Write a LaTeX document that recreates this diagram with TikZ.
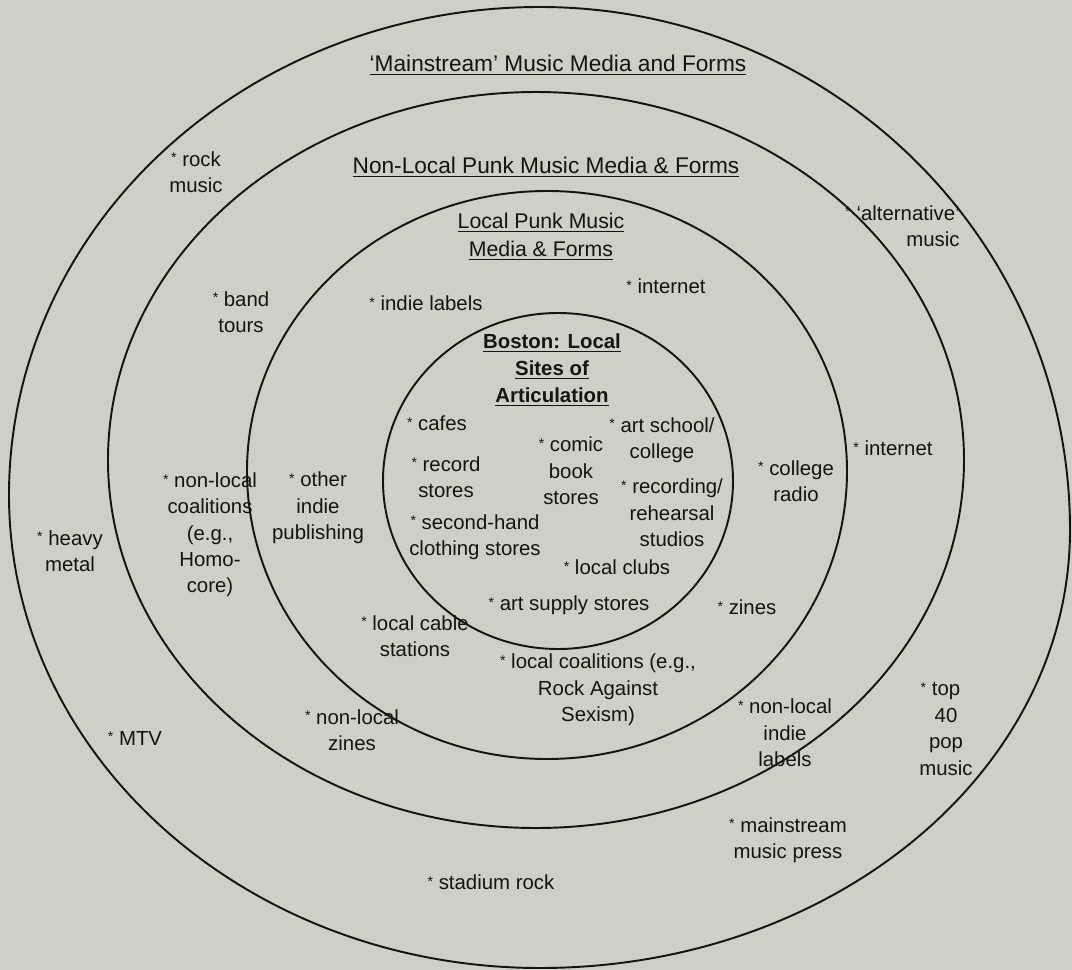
\documentclass[tikz,border=0pt]{standalone}
\usepackage{fontspec}
\setmainfont{Liberation Sans}
\usepackage{xcolor}
\usepackage{tikz}

\definecolor{paper}{RGB}{206,208,197}
\definecolor{ink}{RGB}{20,20,20}
\newcommand{\bl}{\raisebox{0.3ex}{\fontsize{8}{8}\selectfont *}\ }

\begin{document}
\begin{tikzpicture}[
    x=0.02cm, y=-0.02cm,
    ring/.style={draw=ink, line width=1.1pt},
    entry/.style={align=center, inner sep=0pt, text=ink, font=\fontsize{11.6}{15}\selectfont},
    heading/.style={entry, font=\fontsize{12.9}{16}\selectfont},
    core/.style={entry, font=\bfseries\fontsize{11.6}{15.3}\selectfont}
]

% Page
\useasboundingbox (0,0) rectangle (1072,970);
\fill[paper] (0,0) rectangle (1072,970);

% Rings, outside in (outer and local ones are a bit lopsided)
\draw[ring] (540,7) arc[start angle=-90, end angle=0, x radius=530, y radius=523]
    arc[start angle=0, end angle=90, x radius=530, y radius=438]
    arc[start angle=90, end angle=180, x radius=531, y radius=473]
    arc[start angle=180, end angle=270, x radius=531, y radius=488] -- cycle;
\draw[ring] (536,460) ellipse [x radius=428, y radius=368];
\draw[ring] (247,471) arc[start angle=180, end angle=360, x radius=300, y radius=280]
    arc[start angle=0, end angle=180, x radius=300, y radius=288] -- cycle;
\draw[ring] (558,481) ellipse [x radius=175, y radius=168];

% Ring headings
\node[heading] (tmain) at (558,65) {\underline{‘Mainstream’ Music Media and Forms}};
\node[heading] (tnonlocal) at (546,167) {\underline{Non-Local Punk Music Media \& Forms}};
\node[heading, font=\fontsize{12.1}{15.9}\selectfont] (tlocal) at (541,237) {\underline{Local Punk Music}\\\underline{Media \& Forms}};
\node[core] (tboston) at (552,370) {\underline{Boston: Local}\\\underline{Sites of}\\\underline{Articulation}};

% Outer ring
\node[entry] (rock) at (196,172) {\bl rock\\music};
\node[entry, anchor=east, align=right] (altmusic) at (960,226) {\bl ‘alternative’\\music};
\node[entry] (web2) at (893,448) {\bl internet};
\node[entry] (metal) at (70,551) {\bl heavy\\metal};
\node[entry] (mtv) at (135,738) {\bl MTV};
\node[entry] (top40) at (946,729) {\llap{\bl}top\\40\\pop\\music};
\node[entry] (press) at (788,840) {\bl mainstream\\music press};
\node[entry] (stadium) at (491,882) {\bl stadium rock};

% Non-local ring
\node[entry] (tours) at (241,312) {\bl band\\tours};
\node[entry] (web1) at (666,286) {\bl internet};
\node[entry] (coalnl) at (210,535) {\bl non-local\\coalitions\\(e.g.,\\Homo-\\core)};
\node[entry] (zinesnl) at (352,730) {\bl non-local\\zines};
\node[entry] (labelsnl) at (785,733) {\bl non-local\\indie\\labels};

% Local ring
\node[entry] (labels) at (426,303) {\bl indie labels};
\node[entry] (publish) at (318,508) {\bl other\\indie\\publishing};
\node[entry] (radio) at (796,481) {\bl college\\radio};
\node[entry] (zines) at (747,607) {\bl zines};
\node[entry] (cable) at (415,636) {\bl local cable\\stations};
\node[entry] (coal) at (598,690) {\bl local coalitions (e.g.,\\Rock Against\\Sexism)};

% Boston sites
\node[entry] (cafes) at (437,423) {\bl cafes};
\node[entry] (comics) at (571,471) {\bl comic\\book\\stores};
\node[entry] (school) at (662,440) {\bl art school/\\college};
\node[entry] (records) at (446,477) {\bl record\\stores};
\node[entry] (studios) at (672,513) {\bl recording/\\rehearsal\\studios};
\node[entry] (clothing) at (475,537) {\bl second-hand\\clothing stores};
\node[entry] (clubs) at (617,567) {\bl local clubs};
\node[entry] (artsupply) at (569,605) {\bl art supply stores};

\end{tikzpicture}
\end{document}
